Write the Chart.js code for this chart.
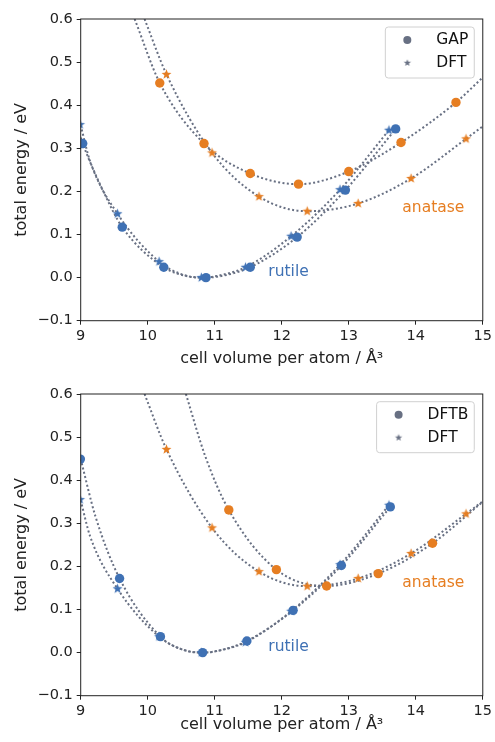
<!DOCTYPE html>
<html>
<head>
<meta charset="utf-8">
<script src="https://cdn.jsdelivr.net/npm/chart.js@4.4.1/dist/chart.umd.min.js"></script>
<style>
    html, body { margin: 0; padding: 0; background: #fff; }
    .panel { width: 495px; height: 371px; }
</style>
</head>
<body>
<div class="panel"><canvas id="chart-gap" width="495" height="371"></canvas></div>
<div class="panel"><canvas id="chart-dftb" width="495" height="371"></canvas></div>
<script>
// DFT reference points (same in both panels)
const dftRutileVol = [8.99, 9.55, 10.17, 10.80, 11.46, 12.14, 12.87, 13.60];
const dftRutileE   = [0.355, 0.148, 0.037, 0.000, 0.024, 0.096, 0.204, 0.342];
const dftAnataseVol = [10.28, 10.96, 11.66, 12.38, 13.14, 13.93, 14.75];
const dftAnataseE   = [0.4715, 0.2895, 0.188, 0.154, 0.172, 0.230, 0.322];

// DFT fitted curves
const dftRutileFitVol = [9.0, 9.14, 9.55, 10.17, 10.50, 10.80, 11.10, 11.46, 12.14, 12.87, 13.60];
const dftRutileFitE   = [0.353, 0.27, 0.148, 0.037, 0.008, 0.0, 0.006, 0.024, 0.096, 0.204, 0.342];
const dftAnataseFitVol = [9.953, 10.28, 10.96, 11.66, 12.38, 13.14, 13.93, 14.75, 15.0];
const dftAnataseFitE   = [0.6, 0.4715, 0.2895, 0.188, 0.154, 0.172, 0.230, 0.322, 0.351];

// GAP points and fits (top panel)
const gapRutileVol = [9.03, 9.62, 10.24, 10.87, 11.53, 12.23, 12.95, 13.70];
const gapRutileE   = [0.311, 0.117, 0.024, 0.000, 0.024, 0.094, 0.203, 0.345];
const gapAnataseVol = [10.18, 10.84, 11.53, 12.25, 13.00, 13.78, 14.60];
const gapAnataseE   = [0.4515, 0.311, 0.2416, 0.2168, 0.246, 0.3135, 0.4065];
const gapRutileFitVol = [9.0, 9.03, 9.35, 9.62, 10.24, 10.60, 10.87, 11.20, 11.53, 12.23, 12.95, 13.70];
const gapRutileFitE   = [0.325, 0.311, 0.196, 0.117, 0.024, 0.003, 0.0, 0.007, 0.024, 0.094, 0.203, 0.345];
const gapAnataseFitVol = [9.805, 10.18, 10.84, 11.53, 12.25, 13.00, 13.78, 14.60, 15.0];
const gapAnataseFitE   = [0.6, 0.4515, 0.311, 0.2416, 0.2168, 0.246, 0.3135, 0.4065, 0.4645];

// DFTB points and fits (bottom panel)
const dftbRutileVol = [8.995, 9.58, 10.19, 10.82, 11.48, 12.17, 12.89, 13.62];
const dftbRutileE   = [0.449, 0.172, 0.037, 0.000, 0.027, 0.098, 0.202, 0.338];
const dftbAnataseVol = [11.21, 11.92, 12.67, 13.44, 14.25];
const dftbAnataseE   = [0.331, 0.1925, 0.1546, 0.1833, 0.2536];
const dftbRutileFitVol = [9.0, 9.22, 9.58, 10.19, 10.50, 10.82, 11.15, 11.48, 12.17, 12.89, 13.62];
const dftbRutileFitE   = [0.449, 0.316, 0.172, 0.037, 0.008, 0.0, 0.008, 0.027, 0.098, 0.202, 0.338];
const dftbAnataseFitVol = [10.57, 10.86, 11.21, 11.92, 12.67, 13.44, 14.25, 15.0];
const dftbAnataseFitE   = [0.6, 0.455, 0.331, 0.1925, 0.1546, 0.1833, 0.2536, 0.350];

const xTicks = [9, 10, 11, 12, 13, 14, 15];
const yTicks = [-0.1, 0.0, 0.1, 0.2, 0.3, 0.4, 0.5, 0.6];

const labelNames = ['rutile', 'anatase'];
const labelVol = [11.80, 13.80];
const labelE = [0.012, 0.162];

const BLUE = '#3f71b4';
const ORANGE = '#e67e22';
const FIT = '#687083';
const FONT = 'DejaVu Sans';

function pts(xs, ys) { return xs.map((x, i) => ({ x: x, y: ys[i] })); }

function makeStar(r, color) {
    const c = document.createElement('canvas');
    const s = Math.ceil(r * 2 + 2);
    c.width = s; c.height = s;
    const g = c.getContext('2d');
    g.fillStyle = color;
    g.beginPath();
    for (let i = 0; i < 10; i++) {
        const rr = i % 2 === 0 ? r : r * 0.42;
        const a = -Math.PI / 2 + i * Math.PI / 5;
        const px = s / 2 + rr * Math.cos(a), py = s / 2 + rr * Math.sin(a);
        if (i === 0) g.moveTo(px, py); else g.lineTo(px, py);
    }
    g.closePath();
    g.fill();
    return c;
}

function fitSet(xs, ys) {
    return {
        data: pts(xs, ys), showLine: true, pointRadius: 0, borderColor: FIT,
        borderWidth: 2, borderDash: [2, 2.4], borderCapStyle: 'butt',
        cubicInterpolationMode: 'monotone', order: 3, clip: 0
    };
}
function circleSet(xs, ys, color) {
    return { data: pts(xs, ys), pointStyle: 'circle', pointRadius: 4.7, backgroundColor: color,
        borderWidth: 0, order: 1, clip: 0 };
}
function starSet(xs, ys, color) {
    return { data: pts(xs, ys), pointStyle: makeStar(5.2, color), pointRadius: 5.2,
        backgroundColor: color, borderWidth: 0, order: 2, clip: 0 };
}

const framePlugin = {
    id: 'frame',
    afterDraw(chart, args, opts) {
        const ctx = chart.ctx, a = chart.chartArea;
        const xs = chart.scales.x, ys = chart.scales.y;
        ctx.save();
        ctx.strokeStyle = '#222'; ctx.lineWidth = 1;
        ctx.strokeRect(a.left, a.top, a.right - a.left, a.bottom - a.top);

        // phase labels
        ctx.font = '15.5px "' + FONT + '"';
        ctx.textBaseline = 'middle'; ctx.textAlign = 'left';
        labelNames.forEach((t, i) => {
            ctx.fillStyle = i === 0 ? BLUE : ORANGE;
            ctx.fillText(t, xs.getPixelForValue(labelVol[i]), ys.getPixelForValue(labelE[i]));
        });

        // legend
        const names = opts.legend;
        const tw = Math.max(...names.map(n => ctx.measureText(n).width));
        const w = 51 + tw + 6, h = 51;
        const x0 = a.right - 8.5 - w, y0 = a.top + opts.legendTop;
        ctx.fillStyle = 'rgba(255,255,255,0.85)';
        ctx.strokeStyle = '#d0d0d0';
        ctx.beginPath();
        ctx.roundRect(x0, y0, w, h, 3);
        ctx.fill(); ctx.stroke();
        ctx.fillStyle = FIT;
        ctx.beginPath();
        ctx.arc(x0 + 22, y0 + 13, 4, 0, Math.PI * 2);
        ctx.fill();
        const st = makeStar(3.8, FIT);
        ctx.drawImage(st, x0 + 22 - st.width / 2, y0 + 36 - st.height / 2);
        ctx.fillStyle = '#111';
        ctx.fillText(names[0], x0 + 51, y0 + 13);
        ctx.fillText(names[1], x0 + 51, y0 + 36);
        ctx.restore();
    }
};

function buildChart(id, datasets, legend, padTop, xHeight, titlePad, legendTop) {
    return new Chart(document.getElementById(id), {
        type: 'scatter',
        data: { datasets: datasets },
        options: {
            responsive: false,
            animation: false,
            devicePixelRatio: 1,
            layout: { padding: { top: padTop, right: 9.3, left: 0, bottom: 0 } },
            plugins: {
                legend: { display: false },
                tooltip: { enabled: false },
                frame: { legend: legend, legendTop: legendTop }
            },
            scales: {
                x: {
                    type: 'linear', min: 9, max: 15,
                    afterBuildTicks: s => { s.ticks = xTicks.map(v => ({ value: v })); },
                    afterFit: s => { s.height = xHeight; },
                    grid: { drawOnChartArea: false, drawTicks: true, tickLength: 4, color: '#222' },
                    border: { display: false },
                    ticks: { color: '#222', padding: 3, font: { family: FONT, size: 14.5 }, maxRotation: 0 },
                    title: { display: true, text: 'cell volume per atom / Å³', color: '#222',
                        font: { family: FONT, size: 16 }, padding: { top: 0, bottom: titlePad } }
                },
                y: {
                    type: 'linear', min: -0.1, max: 0.6,
                    afterBuildTicks: s => { s.ticks = yTicks.map(v => ({ value: v })); },
                    afterFit: s => { s.width = 80.7; },
                    grid: { drawOnChartArea: false, drawTicks: true, tickLength: 4, color: '#222' },
                    border: { display: false },
                    ticks: {
                        color: '#222', padding: 4, font: { family: FONT, size: 14.5 },
                        callback: v => (v < -1e-9 ? '\u2212' : '') + Math.abs(v).toFixed(1)
                    },
                    title: { display: true, text: 'total energy / eV', color: '#222',
                        font: { family: FONT, size: 16 }, padding: { top: 12, bottom: 0 } }
                }
            }
        },
        plugins: [framePlugin]
    });
}

document.addEventListener('DOMContentLoaded', () => {
    buildChart('chart-gap', [
        fitSet(gapRutileFitVol, gapRutileFitE),
        fitSet(dftRutileFitVol, dftRutileFitE),
        fitSet(gapAnataseFitVol, gapAnataseFitE),
        fitSet(dftAnataseFitVol, dftAnataseFitE),
        starSet(dftRutileVol, dftRutileE, BLUE),
        starSet(dftAnataseVol, dftAnataseE, ORANGE),
        circleSet(gapRutileVol, gapRutileE, BLUE),
        circleSet(gapAnataseVol, gapAnataseE, ORANGE)
    ], ['GAP', 'DFT'], 19, 50.3, 3, 8);

    buildChart('chart-dftb', [
        fitSet(dftbRutileFitVol, dftbRutileFitE),
        fitSet(dftRutileFitVol, dftRutileFitE),
        fitSet(dftbAnataseFitVol, dftbAnataseFitE),
        fitSet(dftAnataseFitVol, dftAnataseFitE),
        starSet(dftRutileVol, dftRutileE, BLUE),
        starSet(dftAnataseVol, dftAnataseE, ORANGE),
        circleSet(dftbRutileVol, dftbRutileE, BLUE),
        circleSet(dftbAnataseVol, dftbAnataseE, ORANGE)
    ], ['DFTB', 'DFT'], 23, 46.3, 7.4, 7.7);
});
</script>
</body>
</html>
